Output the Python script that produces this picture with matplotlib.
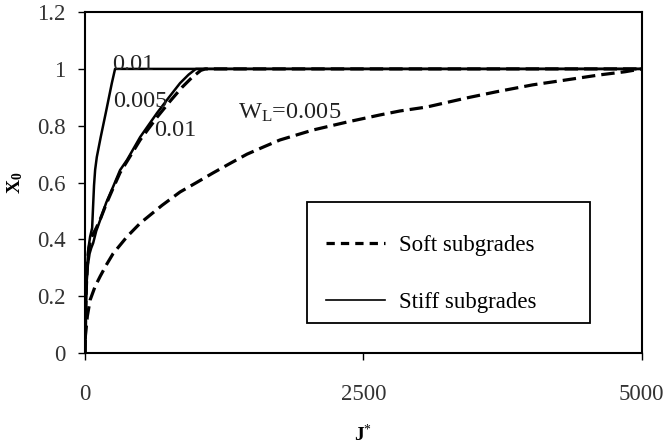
import matplotlib
matplotlib.use("Agg")
import matplotlib.pyplot as plt
from matplotlib.lines import Line2D
from matplotlib.patches import Rectangle

plt.rcParams["font.family"] = ["Liberation Serif", "DejaVu Serif"]
plt.rcParams["mathtext.fontset"] = "custom"
plt.rcParams["mathtext.rm"] = "Liberation Serif"
plt.rcParams["mathtext.it"] = "Liberation Serif:italic"
plt.rcParams["mathtext.bf"] = "Liberation Serif:bold"

# Normalised parameter J* and response X0 for each subgrade case
stiff_001_j = [0, 4, 10, 18, 30, 45, 63, 72, 80, 90, 105, 140, 188, 240, 269, 5000]
stiff_001_x = [0.0, 0.12, 0.22, 0.30, 0.37, 0.41, 0.44, 0.52, 0.59, 0.645, 0.69, 0.76, 0.85, 0.95, 1.0, 1.0]

stiff_0005_j = [0, 6, 14, 25, 40, 55, 72, 100, 135, 190, 251, 314, 377, 494, 646, 753, 853, 930, 995, 5000]
stiff_0005_x = [0.0, 0.15, 0.25, 0.31, 0.35, 0.37, 0.387, 0.43, 0.468, 0.53, 0.585, 0.644, 0.68, 0.76, 0.845,
                0.90, 0.95, 0.98, 1.0, 1.0]

soft_001_j = [0, 8, 18, 30, 50, 72, 100, 135, 190, 251, 314, 377, 494, 646, 760, 870, 960, 1040, 1080, 5000]
soft_001_x = [0.0, 0.20, 0.30, 0.36, 0.40, 0.42, 0.44, 0.47, 0.525, 0.58, 0.635, 0.675, 0.75, 0.83, 0.885,
              0.935, 0.97, 0.995, 1.0, 1.0]

soft_0005_j = [0, 20, 45, 90, 135, 190, 251, 314, 377, 494, 691, 853, 1000, 1149, 1300, 1454, 1600, 1750, 2047,
               2352, 2648, 2828, 3070, 3429, 3700, 4022, 4300, 4623, 4850, 5000]
soft_0005_x = [0.05, 0.13, 0.187, 0.235, 0.27, 0.31, 0.35, 0.38, 0.41, 0.457, 0.52, 0.567, 0.60, 0.634, 0.667,
               0.70, 0.725, 0.75, 0.785, 0.813, 0.838, 0.852, 0.866, 0.898, 0.92, 0.944, 0.96, 0.979, 0.99, 1.0]

# Curve annotations: text, J* of left edge, X0 of text centre
curve_labels = [("0.01", 242, 1.017), ("0.005", 251, 0.885), ("0.01", 620, 0.785),
                ("W$_\\mathrm{L}$=0.005", 1373, 0.845)]

x_ticks = [0, 2500, 5000]
y_ticks = [0, 0.2, 0.4, 0.6, 0.8, 1, 1.2]
y_tick_labels = ["0", "0.2", "0.4", "0.6", "0.8", "1", "1.2"]

fig = plt.figure(figsize=(6.65, 4.47), dpi=100)
ax = fig.add_axes([0.128, 0.210, 0.837, 0.763])

dash = (0, (4.2, 1.9))
ax.plot(stiff_001_j, stiff_001_x, color="black", lw=1.8, solid_joinstyle="round")
ax.plot(stiff_0005_j, stiff_0005_x, color="black", lw=1.8, solid_joinstyle="round")
ax.plot(soft_001_j, soft_001_x, color="black", lw=2.3, ls=dash)
ax.plot(soft_0005_j, soft_0005_x, color="black", lw=2.3, ls=dash)

for text, xj, yx in curve_labels:
    ax.text(xj, yx, text, fontsize=17.5, ha="left", va="center", color="#222222")

ax.set_xlim(0, 5000)
ax.set_ylim(0, 1.2)
ax.set_xticks(x_ticks)
ax.set_xticklabels([str(t) for t in x_ticks])
ax.set_yticks(y_ticks)
ax.set_yticklabels(y_tick_labels)
ax.tick_params(axis="x", direction="out", length=5, width=1, pad=17, labelsize=16.5)
ax.tick_params(axis="y", direction="out", length=5, width=1, pad=9, labelsize=16.5)
for tl in ax.get_xticklabels() + ax.get_yticklabels():
    tl.set_color("#333333")
for sp in ax.spines.values():
    sp.set_linewidth(1.5)
    sp.set_color("black")

ax.set_xlabel("J$^{*}$", fontsize=14, fontweight="bold", labelpad=14)
ax.set_ylabel("X$_\\mathbf{0}$", fontsize=14, fontweight="bold", labelpad=9)

# Legend frame and entries
ax.add_patch(Rectangle((0.3986, 0.088), 0.508, 0.355, transform=ax.transAxes, fill=False,
                       edgecolor="black", lw=1.3, zorder=3))
handles = [Line2D([], [], color="black", lw=2.3, ls=(0, (2.6, 1.9))),
           Line2D([], [], color="black", lw=1.2)]
ax.legend(handles, ["Soft subgrades", "Stiff subgrades"], loc="upper left",
          bbox_to_anchor=(0.4327, 0.346), frameon=False, fontsize=16.5,
          handlelength=2.58, handletextpad=0.61, labelspacing=1.58, borderpad=0,
          borderaxespad=0)

fig.savefig("out.png", dpi=100, facecolor="white")
